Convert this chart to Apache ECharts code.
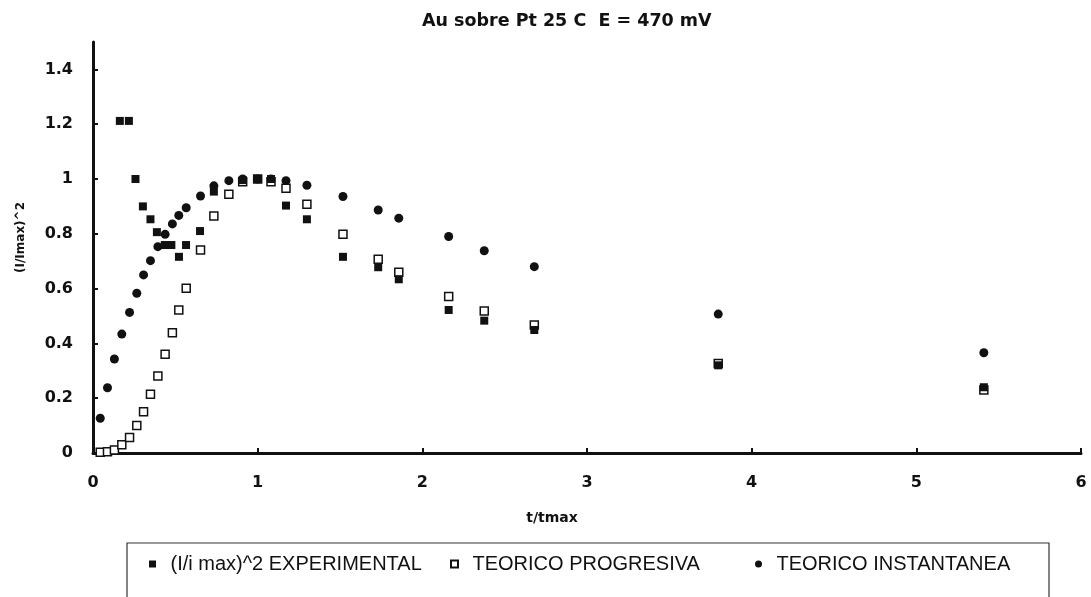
<!DOCTYPE html>
<html>
<head>
<meta charset="utf-8">
<script src="https://cdn.jsdelivr.net/npm/echarts@6/dist/echarts.min.js"></script>
<style>
  html, body { margin: 0; padding: 0; background: #fff; }
  #chart { width: 1091px; height: 597px; }
</style>
</head>
<body>
<div id="chart"></div>
<script>
// Normalised current transients, Au deposition on Pt at 25 C, E = 470 mV
const titleText = 'Au sobre Pt 25 C  E = 470 mV';
const xName = 't/tmax';
const yName = '(I/Imax)^2';
const seriesNames = ['(I/i max)^2 EXPERIMENTAL', 'TEORICO PROGRESIVA', 'TEORICO INSTANTANEA'];

// experimental (I/Imax)^2 against t/tmax
const expT = [0.163, 0.218, 0.258, 0.303, 0.349, 0.388, 0.436, 0.476, 0.522, 0.565, 0.650, 0.734,
              0.909, 1.0, 1.081, 1.172, 1.299, 1.518, 1.732, 1.857, 2.160, 2.376, 2.680, 3.797, 5.410];
const expY = [1.212, 1.212, 1.0, 0.90, 0.853, 0.806, 0.759, 0.759, 0.716, 0.759, 0.810, 0.954,
              0.996, 1.0, 1.0, 0.903, 0.853, 0.716, 0.678, 0.634, 0.522, 0.483, 0.449, 0.320, 0.240];

// theoretical curves share one time grid
const theoT = [0.044, 0.088, 0.130, 0.175, 0.222, 0.266, 0.307, 0.349, 0.394, 0.438, 0.482, 0.521,
               0.566, 0.653, 0.734, 0.825, 0.909, 1.0, 1.081, 1.172, 1.299, 1.518, 1.732, 1.857,
               2.160, 2.376, 2.680, 3.797, 5.410];
const progY = [0.003, 0.005, 0.011, 0.030, 0.057, 0.100, 0.151, 0.214, 0.281, 0.360, 0.439, 0.522,
               0.601, 0.741, 0.865, 0.944, 0.990, 1.0, 0.990, 0.966, 0.908, 0.798, 0.707, 0.660,
               0.571, 0.518, 0.467, 0.327, 0.230];
const instY = [0.127, 0.238, 0.343, 0.434, 0.513, 0.583, 0.650, 0.702, 0.753, 0.798, 0.836, 0.867,
               0.895, 0.938, 0.975, 0.994, 1.0, 1.0, 1.0, 0.994, 0.977, 0.936, 0.887, 0.857,
               0.790, 0.738, 0.680, 0.507, 0.366];

const xTicks = { min: 0, max: 6, step: 1 };
const yTicks = { min: 0, max: 1.5, step: 0.2 };

const pairs = (xs, ys) => xs.map((x, i) => [x, ys[i]]);

const ink = '#111';
const boldFont = 'DejaVu Sans';
const plainFont = 'Liberation Sans';
const squareIcon = 'path://M0,0H10V10H0Z';

const chart = echarts.init(document.getElementById('chart'), null, { renderer: 'canvas' });

const legendCommon = {
  orient: 'horizontal',
  itemWidth: 26,
  itemHeight: 7,
  symbolKeepAspect: true,
  padding: 0,
  top: 554,
  selectedMode: false,
  textStyle: { fontFamily: plainFont, fontSize: 20, color: ink }
};

chart.setOption({
  animation: false,
  backgroundColor: '#fff',
  title: {
    text: titleText,
    left: 422,
    top: 12,
    padding: 0,
    textStyle: { fontFamily: boldFont, fontWeight: 'bold', fontSize: 17.5, color: ink }
  },
  grid: { left: 93, right: 10, top: 42, bottom: 144, containLabel: false },
  xAxis: {
    type: 'value',
    min: xTicks.min,
    max: xTicks.max,
    interval: xTicks.step,
    name: xName,
    nameLocation: 'middle',
    nameGap: 58,
    nameTextStyle: { fontFamily: boldFont, fontWeight: 'bold', fontSize: 14, color: ink, padding: [0, 70, 0, 0] },
    axisLine: { onZero: false, lineStyle: { color: ink, width: 3 } },
    axisTick: { show: true, inside: true, length: 5, lineStyle: { color: ink, width: 2 } },
    axisLabel: { margin: 22, fontFamily: boldFont, fontWeight: 'bold', fontSize: 16, color: ink },
    splitLine: { show: false }
  },
  yAxis: {
    type: 'value',
    min: yTicks.min,
    max: yTicks.max,
    interval: yTicks.step,
    name: yName,
    nameLocation: 'middle',
    nameGap: 66,
    nameRotate: 90,
    nameTextStyle: { fontFamily: boldFont, fontWeight: 'bold', fontSize: 12, color: ink, padding: [0, 0, 0, 20] },
    axisLine: { onZero: false, lineStyle: { color: ink, width: 3 } },
    axisTick: { show: true, inside: true, length: 5, lineStyle: { color: ink, width: 2 } },
    axisLabel: {
      margin: 20, fontFamily: boldFont, fontWeight: 'bold', fontSize: 16, color: ink,
      showMaxLabel: false
    },
    splitLine: { show: false }
  },
  legend: [
    Object.assign({}, legendCommon, { left: 149, data: [{ name: seriesNames[0], icon: squareIcon }] }),
    Object.assign({}, legendCommon, { left: 450, data: [{ name: seriesNames[1], icon: squareIcon }] }),
    Object.assign({}, legendCommon, { left: 755, data: [{ name: seriesNames[2], icon: 'circle' }] })
  ],
  graphic: [{
    type: 'rect',
    shape: { x: 127, y: 543, width: 922, height: 80 },
    style: { fill: 'none', stroke: '#333', lineWidth: 1.2 },
    silent: true
  }],
  series: [
    {
      name: seriesNames[2],
      type: 'scatter',
      symbol: 'circle',
      symbolSize: 9,
      itemStyle: { color: ink, opacity: 1 },
      data: pairs(theoT, instY),
      z: 2
    },
    {
      name: seriesNames[1],
      type: 'scatter',
      symbol: 'rect',
      symbolSize: 8,
      itemStyle: { color: '#fff', borderColor: ink, borderWidth: 1.5, opacity: 1 },
      data: pairs(theoT, progY),
      z: 3
    },
    {
      name: seriesNames[0],
      type: 'scatter',
      symbol: 'rect',
      symbolSize: 8,
      itemStyle: { color: ink, opacity: 1 },
      data: pairs(expT, expY),
      z: 4
    }
  ]
});
</script>
</body>
</html>
